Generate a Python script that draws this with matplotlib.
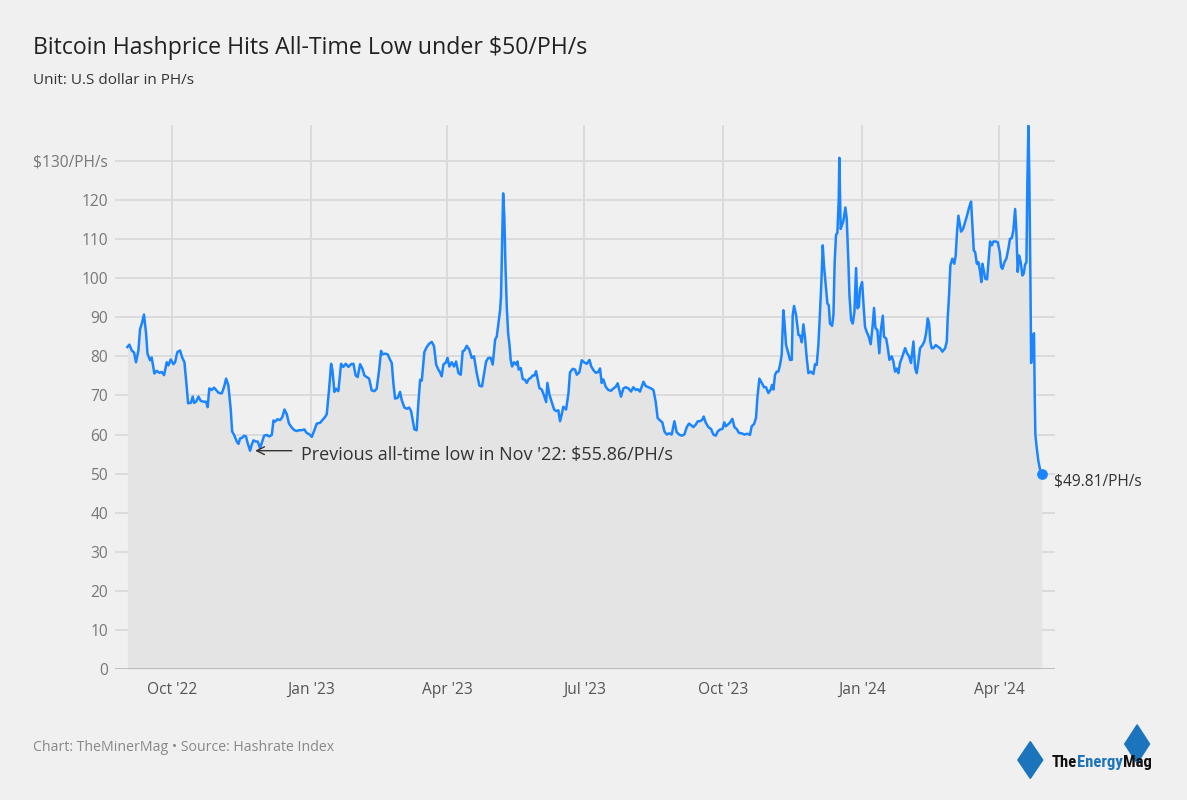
"""
Bitcoin hashprice chart (TheMinerMag style)
"""
import numpy as np
import pandas as pd
import matplotlib
matplotlib.use('Agg')
import matplotlib.pyplot as plt
from matplotlib.patches import Polygon

plt.rcParams['font.family'] = ['Open Sans', 'DejaVu Sans']

# ---------------- data ----------------
start_date = '2022-09-01'
# days since start_date
days = [
    0.2, 1.5, 3.1, 4.6, 5.9, 7.5, 8.6, 9.7, 11.2, 12.6, 13.5, 15.2, 16.3, 18.1, 19.6,
    21.4, 23.0, 24.5, 26.3, 27.4, 28.9, 30.7, 31.8, 33.3, 35.1, 36.4, 38.0, 39.5, 40.4,
    42.2, 43.5, 44.4, 45.7, 47.3, 48.8, 50.6, 52.3, 53.4, 54.5, 56.1, 57.6, 59.0, 60.5,
    62.7, 64.3, 65.6, 67.1, 68.7, 69.6, 70.9, 72.7, 73.8, 74.9, 76.4, 77.5, 78.8, 79.9,
    81.5, 82.6, 83.7, 85.5, 86.6, 88.1, 89.2, 90.8, 92.5, 94.3, 95.9, 97.0, 98.1, 99.6,
    101.4,
    102.9, 104.3, 105.8, 107.3, 109.1, 110.9, 112.4, 114.0, 115.7, 117.5, 119.0, 120.6,
    122.4, 124.1, 125.7, 127.9, 129.4, 131.2, 132.3, 133.8, 135.2, 136.1, 137.4, 138.5,
    140.0, 141.8, 143.3, 144.9, 146.7, 148.4, 150.0, 151.5, 152.8, 154.4, 155.9, 157.3,
    158.8, 160.4, 162.1, 163.9, 165.4, 167.0, 168.3, 169.2, 171.0, 172.7, 174.3, 175.4,
    176.5, 177.6, 179.4, 180.9, 182.0, 183.8, 185.3, 186.9, 188.2, 189.3, 190.4, 191.9,
    193.0, 194.2, 195.3, 197.0, 198.6, 200.1, 201.9,
    203.4, 204.8, 206.3, 207.4, 208.5, 209.6, 211.4, 212.3, 213.6, 215.1, 216.7, 218.0,
    219.6, 221.1, 222.4, 223.5, 225.1, 226.8, 228.4, 229.9, 231.7, 233.5, 235.2, 236.6,
    237.9, 239.4, 241.0, 242.3, 243.9, 245.0, 246.1, 247.2, 247.8, 248.5, 249.2, 250.0,
    250.7, 251.6, 252.5, 253.4, 254.2, 255.1, 256.4, 257.8, 258.7, 259.5, 260.9, 262.2,
    263.7, 264.8, 266.2, 267.5, 268.8, 270.0, 271.0, 271.9, 273.2, 274.8, 276.3, 277.7,
    278.5, 279.9, 281.4, 283.0, 284.3, 285.8, 286.9, 288.0, 289.1, 290.9, 292.5, 293.5,
    295.3, 296.9, 298.0, 299.7, 301.3, 302.8, 304.6, 306.4,
    307.5, 309.0, 310.6, 312.3, 313.4, 314.5, 315.6, 317.2, 318.9, 320.7, 322.3, 323.8,
    325.1, 327.3, 328.9, 330.4, 332.2, 334.0, 335.5, 337.1, 338.4, 339.9, 342.2, 343.7,
    345.5, 347.2, 348.8, 350.3, 351.6, 353.2, 354.7, 356.1, 357.6, 359.2, 360.9, 362.7,
    364.2, 365.8, 367.5, 369.3, 370.9, 372.4, 373.7, 375.3, 376.8, 378.2, 379.7, 381.2,
    382.1, 383.4, 385.2, 387.0, 388.5, 390.1, 391.4, 393.0, 394.5, 395.8, 396.7, 398.0,
    399.6, 401.1, 402.5, 404.0, 405.5, 407.3, 409.1,
    411.1, 412.8, 413.9, 415.5, 416.8, 417.7, 419.0, 420.6, 422.1, 423.4, 425.0, 426.5,
    427.4, 428.3, 429.4, 430.5, 431.6, 432.7, 433.8, 434.9, 435.6, 436.7, 438.2, 439.3,
    440.5, 441.1, 442.0, 443.3, 444.9, 446.0, 447.1, 448.2, 449.3, 450.4, 451.5, 453.0,
    454.8, 455.9, 457.0, 458.1, 459.2, 460.1, 461.0, 461.9, 463.2, 464.1, 465.0, 465.8,
    467.2, 468.1, 468.9, 469.8, 470.7, 471.6, 472.0, 472.9, 473.6, 474.7, 476.0, 476.9,
    478.0, 478.7, 479.8, 480.9, 482.0, 483.1, 484.0, 484.9, 485.7, 487.1, 487.9, 489.0,
    490.1, 491.5, 492.8, 494.1, 495.0, 495.9, 497.2, 498.5, 499.4, 500.8, 501.6, 503.0,
    503.8, 505.2, 506.7, 507.8, 508.9, 510.0, 511.1,
    512.2, 513.8, 515.6, 516.9, 518.2, 519.5, 521.1, 522.2, 523.3, 524.4, 525.5, 527.0,
    528.4, 529.5, 530.6, 531.5, 532.3, 533.2, 534.3, 535.9, 537.2, 538.7, 540.3, 542.1,
    543.2, 543.8, 544.7, 545.6, 546.9, 548.2, 549.1, 550.0, 550.9, 551.8, 552.7, 554.0,
    555.3, 556.6, 558.0, 559.3, 560.2, 561.1, 562.0, 563.1, 564.2, 565.3, 566.1, 566.8,
    567.7, 568.6, 569.9, 571.0, 571.9, 573.0, 574.1, 575.6, 577.0, 578.3, 579.2, 580.1,
    581.4, 582.7, 584.0, 585.1, 586.2, 587.3, 588.5, 589.3, 590.2, 591.1, 592.2, 593.3,
    594.2, 595.1, 596.0, 596.6, 597.3, 597.9, 598.6, 599.1, 599.7, 600.4, 601.0, 601.5,
    601.9, 602.8, 603.9, 605.0, 606.1,
]
hashprice = [
    82.4, 83.0, 81.5, 81.0, 78.5, 81.5, 87.0, 88.3, 90.7, 85.8, 80.7, 79.0, 79.7, 75.6, 76.3,
    75.8, 76.0, 75.2, 78.5, 77.7, 79.2, 78.0, 78.5, 81.1, 81.5, 79.8, 78.5, 72.2, 68.0,
    68.1, 69.7, 68.1, 68.4, 69.7, 68.6, 68.4, 68.4, 67.0, 71.8, 71.4, 72.0, 71.4, 70.7,
    70.5, 72.2, 74.3, 72.6, 66.3, 60.8, 59.9, 58.2, 57.6, 59.0, 59.2, 59.7, 59.5, 57.8,
    55.86, 57.4, 58.5, 58.2, 58.2, 56.5, 57.8, 59.7, 59.9, 59.5, 59.9, 63.6, 63.3, 63.9,
    63.7,
    64.5, 66.4, 65.2, 62.8, 61.8, 61.1, 60.9, 61.1, 61.1, 61.3, 60.4, 60.1,
    59.4, 61.1, 62.8, 63.0, 63.7, 64.5, 65.2, 71.3, 78.1, 76.4, 70.9, 71.7,
    71.1, 78.1, 77.3, 78.1, 77.3, 78.0, 78.1, 75.1, 74.7, 78.0, 76.9, 75.1,
    74.7, 74.3, 71.3, 71.1, 71.7, 76.4, 81.4, 80.5, 80.7, 80.5, 79.1, 78.3,
    73.0, 69.2, 69.4, 70.9, 68.8, 66.9, 66.6, 66.9, 66.0, 63.7, 61.3, 61.1,
    67.9, 74.0, 73.8, 81.1, 82.4, 83.2, 83.7,
    82.6, 77.9, 76.6, 75.9, 74.9, 77.9, 78.5, 79.6, 77.4, 78.5, 77.4, 78.7,
    75.7, 75.3, 81.3, 81.5, 82.7, 81.7, 79.6, 80.0, 75.7, 72.5, 72.3, 75.7,
    78.7, 79.6, 79.6, 77.9, 84.3, 85.1, 88.5, 91.9, 95.3, 108.0, 121.7, 115.7,
    103.8, 92.8, 86.0, 83.0, 79.1, 77.4, 78.5, 77.9, 78.7, 76.6, 77.0, 74.2,
    74.0, 73.2, 74.2, 74.5, 75.1, 75.1, 76.2, 74.5, 71.9, 71.5, 70.0, 68.3,
    73.2, 70.2, 68.3, 66.4, 66.0, 66.2, 63.4, 65.1, 67.1, 66.4, 70.6, 75.9,
    76.8, 76.6, 75.3, 75.9, 79.0, 78.5, 78.1, 79.1,
    77.5, 76.5, 75.8, 76.0, 76.9, 73.2, 74.1, 72.2, 71.4, 71.2, 71.8, 72.2,
    73.1, 69.7, 71.8, 72.1, 71.8, 71.0, 72.1, 71.4, 71.6, 71.0, 73.5, 72.4,
    72.1, 71.8, 71.4, 68.4, 64.2, 63.6, 63.1, 60.8, 60.0, 60.3, 60.0, 63.4,
    60.6, 60.0, 59.7, 60.0, 61.9, 62.8, 62.4, 61.9, 62.5, 63.4, 63.4, 63.8,
    64.6, 63.1, 61.9, 61.4, 60.0, 59.7, 60.8, 61.3, 61.4, 63.1, 62.1, 62.5,
    63.1, 64.0, 61.9, 61.4, 60.4, 60.3, 60.0,
    60.2, 59.9, 62.1, 62.7, 64.3, 69.4, 74.3, 73.2, 72.1, 72.1, 70.6, 71.5,
    72.7, 71.5, 75.3, 76.1, 76.1, 77.8, 80.4, 91.8, 88.9, 82.9, 80.8, 79.1,
    79.1, 90.6, 92.9, 90.6, 85.5, 85.3, 83.6, 88.2, 84.6, 79.5, 75.7, 76.1,
    75.5, 78.0, 77.8, 82.9, 91.4, 99.0, 108.4, 102.9, 97.3, 93.5, 93.1, 88.4,
    87.8, 90.6, 104.1, 111.1, 111.6, 120.2, 130.8, 112.6, 113.5, 114.7, 118.1, 115.2,
    104.1, 95.6, 89.3, 88.4, 91.4, 102.6, 92.3, 92.7, 97.3, 99.0, 94.0, 87.6,
    86.3, 85.0, 83.1, 88.0, 92.4, 87.3, 86.7, 80.8, 86.3, 90.4, 85.0, 84.6,
    82.9, 79.1, 80.0, 78.7, 76.1, 76.9, 75.7,
    78.3, 80.0, 82.1, 80.8, 80.0, 78.3, 83.8, 77.0, 75.7, 78.7, 82.1, 82.8,
    83.9, 85.9, 89.7, 88.4, 83.8, 82.1, 82.1, 82.9, 82.5, 82.1, 81.2, 82.1,
    83.8, 89.7, 95.6, 103.3, 105.0, 103.7, 105.8, 111.8, 116.0, 113.9, 111.9, 112.6,
    114.3, 116.0, 118.1, 119.6, 113.5, 107.1, 106.7, 103.7, 104.1, 101.6, 99.0, 103.7,
    102.0, 99.9, 99.7, 105.0, 109.4, 108.4, 109.4, 109.4, 109.2, 106.7, 102.9, 102.4,
    104.1, 105.0, 107.5, 110.1, 110.2, 112.2, 117.7, 112.2, 101.6, 105.8, 104.1, 100.7,
    101.2, 103.5, 104.1, 124.5, 139.0, 126.2, 100.7, 78.3, 82.1, 85.5, 85.9, 69.4,
    60.0, 56.6, 53.2, 51.1, 49.81,
]

tick_dates = ['2022-10-01', '2023-01-01', '2023-04-01', '2023-07-01',
              '2023-10-01', '2024-01-01', '2024-04-01']
tick_labels = ["Oct '22", "Jan '23", "Apr '23", "Jul '23", "Oct '23", "Jan '24", "Apr '24"]
y_ticks = list(range(0, 140, 10))
y_labels = [str(v) for v in y_ticks[:-1]] + ['$130/PH/s']

prev_low_date = '2022-11-21'
prev_low = 55.86

# ---------------- style ----------------
BG = '#f0f0f0'
BLUE = '#1a85ff'
GRID = '#d9d9d9'
LOGO_BLUE = '#1c75bc'

dates = pd.to_datetime(start_date) + pd.to_timedelta(days, unit='D')

fig = plt.figure(figsize=(11.87, 8), dpi=100, facecolor=BG)
ax = fig.add_axes([0.0969, 0.16375, 0.792, 0.68])
ax.set_facecolor(BG)

ax.fill_between(dates, hashprice, 0, color='#e4e4e4', lw=0, zorder=1)
ax.plot(dates, hashprice, color=BLUE, lw=1.8, zorder=3, solid_joinstyle='round')
ax.scatter([dates[-1]], [hashprice[-1]], s=45, color=BLUE, zorder=4, clip_on=False)

ax.set_ylim(0, 139.2)
ax.set_xlim(pd.to_datetime(start_date) - pd.Timedelta(days=8),
            pd.to_datetime(start_date) + pd.Timedelta(days=615))

ax.set_yticks(y_ticks)
ax.set_yticklabels(y_labels)
ax.set_xticks(pd.to_datetime(tick_dates))
ax.set_xticklabels(tick_labels)

ax.grid(True, axis='both', color=GRID, lw=1.3, zorder=0)
ax.set_axisbelow(True)
for s in ax.spines.values():
    s.set_visible(False)
ax.axhline(0, color='#bdbdbd', lw=1.3, zorder=2)
ax.tick_params(axis='both', length=0, labelsize=11.2, colors='#777777')
ax.tick_params(axis='y', pad=5)
ax.tick_params(axis='x', pad=9)
for lbl in ax.get_xticklabels():
    lbl.set_color('#555555')

# annotation for previous ATL
ax.annotate('', xy=(pd.to_datetime(prev_low_date) + pd.Timedelta(days=2), prev_low),
            xytext=(pd.to_datetime(prev_low_date) + pd.Timedelta(days=30), prev_low),
            arrowprops=dict(arrowstyle='->', color='#333333', lw=1.0,
                            mutation_scale=14), zorder=5)
ax.text(pd.to_datetime(prev_low_date) + pd.Timedelta(days=34), prev_low - 1.2,
        "Previous all-time low in Nov '22: $55.86/PH/s",
        fontsize=13, color='#333333', va='center', ha='left', zorder=5)

ax.annotate('$%.2f/PH/s' % hashprice[-1], xy=(dates[-1], hashprice[-1]),
            xytext=(9, -5), textcoords='offset points', fontsize=11.2,
            color='#333333', va='center', ha='left', annotation_clip=False)

# titles
fig.text(0.0278, 0.94, 'Bitcoin Hashprice Hits All-Time Low under $50/PH/s',
         fontsize=16.7, color='#222222', va='center', ha='left')
fig.text(0.0278, 0.899, 'Unit: U.S dollar in PH/s',
         fontsize=11, color='#333333', va='center', ha='left')
fig.text(0.0278, 0.066, 'Chart: TheMinerMag \u2022 Source: Hashrate Index',
         fontsize=10.2, color='#888888', va='center', ha='left')

# logo (simplified)
d1 = Polygon([[0.868, 0.073], [0.8785, 0.05], [0.868, 0.027], [0.8575, 0.05]],
             closed=True, transform=fig.transFigure, color=LOGO_BLUE)
d2 = Polygon([[0.958, 0.094], [0.9685, 0.07], [0.958, 0.046], [0.9475, 0.07]],
             closed=True, transform=fig.transFigure, color=LOGO_BLUE)
fig.patches.extend([d1, d2])
logo_font = dict(fontsize=12, fontweight='bold', family=['Roboto Condensed', 'Roboto', 'DejaVu Sans'])
t1 = fig.text(0.886, 0.047, 'The', color='#111111', va='center', ha='left', **logo_font)
t2 = fig.add_artist(plt.Annotation('Energy', xy=(1, 0.5), xycoords=t1, va='center',
                                   ha='left', color=LOGO_BLUE, **logo_font))
t3 = fig.add_artist(plt.Annotation('Mag', xy=(1, 0.5), xycoords=t2, va='center',
                                   ha='left', color='#111111', **logo_font))

plt.savefig('out.png', dpi=100, facecolor=BG)
